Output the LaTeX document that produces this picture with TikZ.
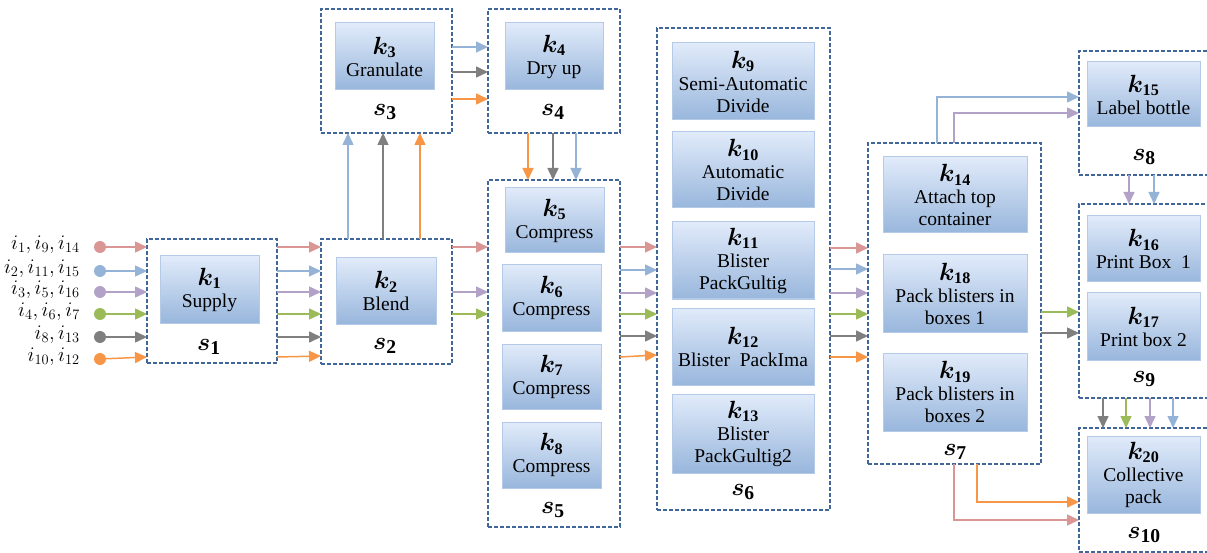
\documentclass[tikz,border=0pt]{standalone}
\usepackage{fontspec}
\setmainfont{Liberation Serif}
\usepackage{bm}
\usetikzlibrary{arrows.meta,calc}
\definecolor{cPink}{HTML}{D99694}
\definecolor{cBlue}{HTML}{95B3D7}
\definecolor{cPurple}{HTML}{B3A2C7}
\definecolor{cGreen}{HTML}{9BBB59}
\definecolor{cGray}{HTML}{7F7F7F}
\definecolor{cOrange}{HTML}{F79646}
\definecolor{cDash}{HTML}{41669A}
\definecolor{kTop}{HTML}{E1EBFA}
\definecolor{kBot}{HTML}{98B6DC}
\definecolor{kEdge}{HTML}{B4CAE6}
\newcommand{\mkl}[1]{{\fontsize{23}{22}\selectfont$\bm{k}_{\mathbf{#1}}$}}
\newcommand{\stl}[1]{$\bm{s}_{\mathbf{#1}}$}
\begin{document}
\begin{tikzpicture}[x=1pt,y=-1pt,
  sbox/.style={draw=cDash, dash pattern=on 4pt off 2pt, line width=1.3pt, inner sep=0pt, outer sep=0pt, anchor=north west},
  kbox/.style={draw=kEdge, line width=1pt, top color=kTop, bottom color=kBot, inner sep=0pt, outer sep=0pt, anchor=north west, align=center, font=\fontsize{19.5}{22}\selectfont},
  slab/.style={font=\fontsize{28}{30}\selectfont, inner sep=0pt},
  inlab/.style={font=\fontsize{20}{22}\selectfont, anchor=east, inner sep=0pt},
  dot/.style={circle, fill=#1, minimum size=12pt, inner sep=0pt, outer sep=0pt},
  flow/.style={draw=#1, line width=1.5pt, -{Triangle[length=12pt,width=11pt,fill=#1]}}
]
\useasboundingbox (0,0) rectangle (1207,553);
\clip (0,0) rectangle (1207,553);

% stage containers
\node[sbox, minimum width=130pt, minimum height=124pt] (s1) at (147,239) {};
\node[sbox, minimum width=131pt, minimum height=125pt] (s2) at (321,239) {};
\node[sbox, minimum width=131pt, minimum height=124pt] (s3) at (321,9) {};
\node[sbox, minimum width=132pt, minimum height=124pt] (s4) at (488,9) {};
\node[sbox, minimum width=132pt, minimum height=347pt] (s5) at (488,180) {};
\node[sbox, minimum width=173pt, minimum height=482pt] (s6) at (657,28) {};
\node[sbox, minimum width=173pt, minimum height=321pt] (s7) at (868,143) {};
\node[sbox, minimum width=140pt, minimum height=124pt] (s8) at (1079,51) {};
\node[sbox, minimum width=140pt, minimum height=194pt] (s9) at (1079,204) {};
\node[sbox, minimum width=140pt, minimum height=124pt] (s10) at (1079,428) {};

% machines
\node[kbox, minimum width=99pt, minimum height=67pt] (k1) at (160,256) {\mkl{1}\\Supply};
\node[kbox, minimum width=100pt, minimum height=66pt] (k2) at (336,258) {\mkl{2}\\Blend};
\node[kbox, minimum width=99pt, minimum height=67pt] (k3) at (335,23) {\mkl{3}\\Granulate};
\node[kbox, minimum width=98pt, minimum height=67pt] (k4) at (505,23) {\mkl{4}\\Dry up};
\node[kbox, minimum width=99pt, minimum height=65pt] (k5) at (505,188) {\mkl{5}\\Compress};
\node[kbox, minimum width=99pt, minimum height=66pt] (k6) at (502,265) {\mkl{6}\\Compress};
\node[kbox, minimum width=99pt, minimum height=65pt] (k7) at (502,344) {\mkl{7}\\Compress};
\node[kbox, minimum width=99pt, minimum height=66pt] (k8) at (502,422) {\mkl{8}\\Compress};
\node[kbox, minimum width=142pt, minimum height=77pt] (k9) at (672,43) {\mkl{9}\\Semi-Automatic\\Divide};
\node[kbox, minimum width=142pt, minimum height=76pt] (k10) at (672,132) {\mkl{10}\\Automatic\\Divide};
\node[kbox, minimum width=142pt, minimum height=77pt] (k11) at (672,222) {\mkl{11}\\Blister\\PackGultig};
\node[kbox, minimum width=142pt, minimum height=77pt] (k12) at (672,308) {\mkl{12}\\Blister\ \ PackIma};
\node[kbox, minimum width=142pt, minimum height=79pt] (k13) at (672,394) {\mkl{13}\\Blister\\PackGultig2};
\node[kbox, minimum width=144pt, minimum height=76pt] (k14) at (883,157) {\mkl{14}\\Attach top\\container};
\node[kbox, minimum width=144pt, minimum height=77pt] (k18) at (883,255) {\mkl{18}\\Pack blisters in\\boxes 1};
\node[kbox, minimum width=144pt, minimum height=78pt] (k19) at (883,353) {\mkl{19}\\Pack blisters in\\boxes 2};
\node[kbox, minimum width=113pt, minimum height=65pt] (k15) at (1087,62) {\mkl{15}\\Label bottle};
\node[kbox, minimum width=113pt, minimum height=66pt] (k16) at (1087,216) {\mkl{16}\\Print Box\ \ 1};
\node[kbox, minimum width=113pt, minimum height=67pt] (k17) at (1087,293) {\mkl{17}\\Print box 2};
\node[kbox, minimum width=113pt, minimum height=77pt] (k20) at (1087,436) {\mkl{20}\\Collective\\pack};

% stage labels
\node[slab] (l1) at (209,347) {\stl{1}};
\node[slab] (l2) at (385,346) {\stl{2}};
\node[slab] (l3) at (385,112) {\stl{3}};
\node[slab] (l4) at (553,112) {\stl{4}};
\node[slab] (l5) at (553,510) {\stl{5}};
\node[slab] (l6) at (743,492) {\stl{6}};
\node[slab] (l7) at (955,452) {\stl{7}};
\node[slab] (l8) at (1144,157) {\stl{8}};
\node[slab] (l9) at (1144,379) {\stl{9}};
\node[slab] (l10) at (1144,535) {\stl{10}};

% inputs
\node[dot=cPink]   (in1) at (100,247) {};
\node[dot=cBlue]   (in2) at (100,271) {};
\node[dot=cPurple] (in3) at (100,292) {};
\node[dot=cGreen]  (in4) at (100,314) {};
\node[dot=cGray]   (in5) at (100,337) {};
\node[dot=cOrange] (in6) at (100,359) {};
\node[inlab] (t1) at (80,245) {$i_1, i_9, i_{14}$};
\node[inlab] (t2) at (80,269) {$i_2, i_{11}, i_{15}$};
\node[inlab] (t3) at (80,290) {$i_3, i_5, i_{16}$};
\node[inlab] (t4) at (80,312) {$i_4, i_6, i_7$};
\node[inlab] (t5) at (80,335) {$i_8, i_{13}$};
\node[inlab] (t6) at (80,357) {$i_{10}, i_{12}$};
\draw[flow=cPink]   (in1) -- (s1.west |- in1);
\draw[flow=cBlue]   (in2) -- (s1.west |- in2);
\draw[flow=cPurple] (in3) -- (s1.west |- in3);
\draw[flow=cGreen]  (in4) -- (s1.west |- in4);
\draw[flow=cGray]   (in5) -- (s1.west |- in5);
\draw[flow=cOrange] (in6) -- (s1.west |- 0,357);

% s1 -> s2
\draw[flow=cPink]   (s1.east |- 0,247) -- (s2.west |- 0,247);
\draw[flow=cBlue]   (s1.east |- 0,271) -- (s2.west |- 0,271);
\draw[flow=cPurple] (s1.east |- 0,292) -- (s2.west |- 0,292);
\draw[flow=cGreen]  (s1.east |- 0,314) -- (s2.west |- 0,314);
\draw[flow=cGray]   (s1.east |- 0,337) -- (s2.west |- 0,337);
\draw[flow=cOrange] (s1.east |- 0,357) -- (s2.west |- 0,356);

% s2 -> s3
\draw[flow=cBlue]   (s2.north -| 348,0) -- (s3.south -| 348,0);
\draw[flow=cGray]   (s2.north -| 383,0) -- (s3.south -| 383,0);
\draw[flow=cOrange] (s2.north -| 420,0) -- (s3.south -| 420,0);

% s3 -> s4
\draw[flow=cBlue]   (s3.east |- 0,47) -- (s4.west |- 0,47);
\draw[flow=cGray]   (s3.east |- 0,72) -- (s4.west |- 0,72);
\draw[flow=cOrange] (s3.east |- 0,99) -- (s4.west |- 0,99);

% s4 -> s5
\draw[flow=cOrange] (s4.south -| 528,0) -- (s5.north -| 528,0);
\draw[flow=cGray]   (s4.south -| 553,0) -- (s5.north -| 553,0);
\draw[flow=cBlue]   (s4.south -| 576,0) -- (s5.north -| 576,0);

% s2 -> s5
\draw[flow=cPink]   (s2.east |- 0,247) -- (s5.west |- 0,247);
\draw[flow=cPurple] (s2.east |- 0,292) -- (s5.west |- 0,292);
\draw[flow=cGreen]  (s2.east |- 0,314) -- (s5.west |- 0,314);

% s5 -> s6
\draw[flow=cPink]   (s5.east |- 0,247) -- (s6.west |- 0,247);
\draw[flow=cBlue]   (s5.east |- 0,270) -- (s6.west |- 0,270);
\draw[flow=cPurple] (s5.east |- 0,293) -- (s6.west |- 0,293);
\draw[flow=cGreen]  (s5.east |- 0,314) -- (s6.west |- 0,314);
\draw[flow=cGray]   (s5.east |- 0,336) -- (s6.west |- 0,336);
\draw[flow=cOrange] (s5.east |- 0,357) -- (s6.west |- 0,355);

% s6 -> s7
\draw[flow=cPink]   (s6.east |- 0,248) -- (s7.west |- 0,248);
\draw[flow=cBlue]   (s6.east |- 0,269) -- (s7.west |- 0,269);
\draw[flow=cPurple] (s6.east |- 0,293) -- (s7.west |- 0,293);
\draw[flow=cGreen]  (s6.east |- 0,314) -- (s7.west |- 0,314);
\draw[flow=cGray]   (s6.east |- 0,336) -- (s7.west |- 0,336);
\draw[flow=cOrange] (s6.east |- 0,357) -- (s7.west |- 0,357);

% s7 -> s8
\draw[flow=cBlue]   (s7.north -| 937,0) |- (s8.west |- 0,97);
\draw[flow=cPurple] (s7.north -| 954,0) |- (s8.west |- 0,113);

% s8 -> s9
\draw[flow=cPurple] (s8.south -| 1129,0) -- (s9.north -| 1129,0);
\draw[flow=cBlue]   (s8.south -| 1154,0) -- (s9.north -| 1154,0);

% s7 -> s9
\draw[flow=cGreen]  (s7.east |- 0,312) -- (s9.west |- 0,312);
\draw[flow=cGray]   (s7.east |- 0,333) -- (s9.west |- 0,333);

% s9 -> s10
\draw[flow=cGray]   (s9.south -| 1103,0) -- (s10.north -| 1103,0);
\draw[flow=cGreen]  (s9.south -| 1126,0) -- (s10.north -| 1126,0);
\draw[flow=cPurple] (s9.south -| 1150,0) -- (s10.north -| 1150,0);
\draw[flow=cBlue]   (s9.south -| 1173,0) -- (s10.north -| 1173,0);

% s7 -> s10
\draw[flow=cOrange] (s7.south -| 977,0) |- (s10.west |- 0,502);
\draw[flow=cPink]   (s7.south -| 954,0) |- (s10.west |- 0,520);
\end{tikzpicture}
\end{document}
